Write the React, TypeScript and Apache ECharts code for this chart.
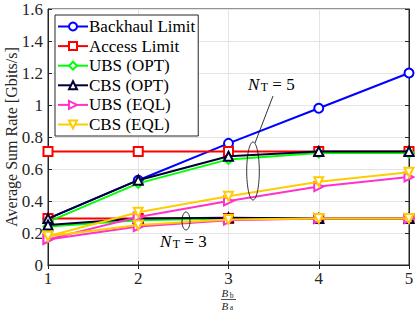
import React, { useEffect, useRef } from "react";
import * as echarts from "echarts";

const xValues = [1, 2, 3, 4, 5];
const backhaulLimit = [0.29, 0.53, 0.76, 0.98, 1.2];
const accessLimit5 = [0.71, 0.71, 0.71, 0.71, 0.71];
const accessLimit3 = [0.29, 0.29, 0.29, 0.29, 0.29];
const ubsOpt5 = [0.27, 0.51, 0.66, 0.7, 0.7];
const ubsOpt3 = [0.24, 0.28, 0.29, 0.29, 0.29];
const cbsOpt5 = [0.29, 0.53, 0.68, 0.71, 0.71];
const cbsOpt3 = [0.25, 0.29, 0.295, 0.29, 0.29];
const ubsEql5 = [0.16, 0.3, 0.4, 0.49, 0.55];
const ubsEql3 = [0.16, 0.24, 0.28, 0.29, 0.29];
const cbsEql5 = [0.18, 0.33, 0.43, 0.52, 0.58];
const cbsEql3 = [0.18, 0.25, 0.285, 0.29, 0.29];
const yTicks = [0, 0.2, 0.4, 0.6, 0.8, 1, 1.2, 1.4, 1.6];

const FONT = "Liberation Serif";
const AX = "#262626";

const pairs = (ys: number[]) => xValues.map((x, i) => [x, ys[i]]);

export default function App() {
  const ref = useRef<HTMLDivElement>(null);
  useEffect(() => {
    if (!ref.current) return;
    const chart = echarts.init(ref.current, null, { renderer: "svg" });
    const mk = (
      name: string,
      data: number[],
      color: string,
      symbol: string,
      rotate = 0,
      z = 2
    ) => ({
      type: "line",
      name,
      data: pairs(data),
      symbol,
      symbolSize: 9,
      symbolRotate: rotate,
      z,
      lineStyle: { color, width: 2 },
      itemStyle: { color, borderColor: color, borderWidth: 1.8 },
      emphasis: { disabled: true },
    });
    const series = [
      mk("Backhaul Limit", backhaulLimit, "#0000ff", "emptyCircle", 0, 2),
      mk("Access Limit", accessLimit5, "#ff0000", "emptyRect", 0, 3),
      mk("Access Limit", accessLimit3, "#ff0000", "emptyRect", 0, 3),
      mk("UBS (OPT)", ubsOpt5, "#00ff00", "emptyDiamond", 0, 4),
      mk("UBS (OPT)", ubsOpt3, "#00ff00", "emptyDiamond", 0, 4),
      mk("CBS (OPT)", cbsOpt5, "#000033", "emptyTriangle", 0, 5),
      mk("CBS (OPT)", cbsOpt3, "#000033", "emptyTriangle", 0, 5),
      mk("UBS (EQL)", ubsEql5, "#ff33cc", "emptyTriangle", -90, 6),
      mk("UBS (EQL)", ubsEql3, "#ff33cc", "emptyTriangle", -90, 6),
      mk("CBS (EQL)", cbsEql5, "#ffcc00", "emptyTriangle", 180, 7),
      mk("CBS (EQL)", cbsEql3, "#ffcc00", "emptyTriangle", 180, 7),
    ];
    const richSub = (x: number, y: number, text: string, size: number, color: string, lh: number) => ({
      type: "text",
      x,
      y,
      z: 100,
      style: {
        text,
        fill: color,
        textVerticalAlign: "middle",
        rich: {
          i: { fontFamily: FONT, fontStyle: "italic", fontSize: size, lineHeight: lh },
          s: { fontFamily: FONT, fontSize: size * 0.7, lineHeight: size * 0.7, padding: [size * 0.4, 0, 0, 1.5] },
          n: { fontFamily: FONT, fontSize: size, lineHeight: lh },
        },
      },
    });
    chart.setOption({
      animation: false,
      backgroundColor: "#fff",
      grid: { left: 48, right: 6, top: 9, bottom: 47, show: true, borderColor: AX, borderWidth: 1, outerBoundsMode: "none", containLabel: false },
      legend: {
        data: ["Backhaul Limit", "Access Limit", "UBS (OPT)", "CBS (OPT)", "UBS (EQL)", "CBS (EQL)"],
        orient: "vertical",
        left: 55,
        top: 15,
        itemWidth: 30,
        itemHeight: 10,
        itemGap: 2.6,
        backgroundColor: "#fff",
        borderColor: AX,
        borderWidth: 1,
        borderRadius: 0,
        padding: [3, 3, 3, 2],
        textStyle: { fontFamily: FONT, fontSize: 17, color: "#000", padding: [0, 0, 0, -4] },
        selectedMode: false,
      },
      xAxis: [
        {
          type: "value",
          min: 1,
          max: 5,
          interval: 1,
          axisLine: { show: true, lineStyle: { color: AX } },
          axisTick: { show: true, inside: true, length: 4, lineStyle: { color: AX } },
          axisLabel: { fontFamily: FONT, fontSize: 17, lineHeight: 12, color: AX, margin: 7 },
          splitLine: { show: true, lineStyle: { color: "#e3e3e3" } },
        },
        {
          type: "value",
          position: "top",
          min: 1,
          max: 5,
          interval: 1,
          axisLine: { show: true, lineStyle: { color: AX } },
          axisTick: { show: true, inside: true, length: 4, lineStyle: { color: AX } },
          axisLabel: { show: false },
          splitLine: { show: false },
        },
      ],
      yAxis: [
        {
          type: "value",
          min: 0,
          max: 1.6,
          interval: 0.2,
          name: "Average Sum Rate [Gbits/s]",
          nameLocation: "middle",
          nameGap: 29,
          nameMoveOverlap: false,
          nameTextStyle: { fontFamily: FONT, fontSize: 16, color: AX },
          axisLine: { show: true, lineStyle: { color: AX } },
          axisTick: { show: true, inside: true, length: 4, lineStyle: { color: AX } },
          axisLabel: {
            fontFamily: FONT,
            fontSize: 17,
            color: AX,
            margin: 5,
            formatter: (v: number) => {
              const t = yTicks.find((k) => Math.abs(k - v) < 1e-6);
              return String(t ?? v);
            },
          },
          splitLine: { show: true, lineStyle: { color: "#e3e3e3" } },
        },
        {
          type: "value",
          position: "right",
          min: 0,
          max: 1.6,
          interval: 0.2,
          axisLine: { show: true, lineStyle: { color: AX } },
          axisTick: { show: true, inside: true, length: 4, lineStyle: { color: AX } },
          axisLabel: { show: false },
          splitLine: { show: false },
        },
      ],
      series,
      graphic: [
        richSub(248, 84, "{i|N}{s|T}{n| = 5}", 17, "#000", 20),
        { type: "line", shape: { x1: 273, y1: 96, x2: 255, y2: 143 }, style: { stroke: "#000", lineWidth: 0.8 }, z: 100 },
        { type: "ellipse", shape: { cx: 253, cy: 171, rx: 6.3, ry: 29 }, style: { fill: "none", stroke: "#000", lineWidth: 0.8 }, z: 100 },
        richSub(160, 241, "{i|N}{s|T}{n| = 3}", 17, "#000", 20),
        { type: "ellipse", shape: { cx: 186, cy: 221, rx: 4, ry: 9 }, style: { fill: "none", stroke: "#000", lineWidth: 0.8 }, z: 100 },
        richSub(221.5, 293, "{i|B}{s|b}", 11, AX, 9),
        { type: "line", shape: { x1: 221, y1: 299.5, x2: 236, y2: 299.5 }, style: { stroke: AX, lineWidth: 0.8 } },
        richSub(221.5, 305.5, "{i|B}{s|a}", 11, AX, 9),
      ],
    });
    return () => chart.dispose();
  }, []);
  return <div ref={ref} style={{ width: 415, height: 312, position: "absolute", left: 0, top: 0 }} />;
}
